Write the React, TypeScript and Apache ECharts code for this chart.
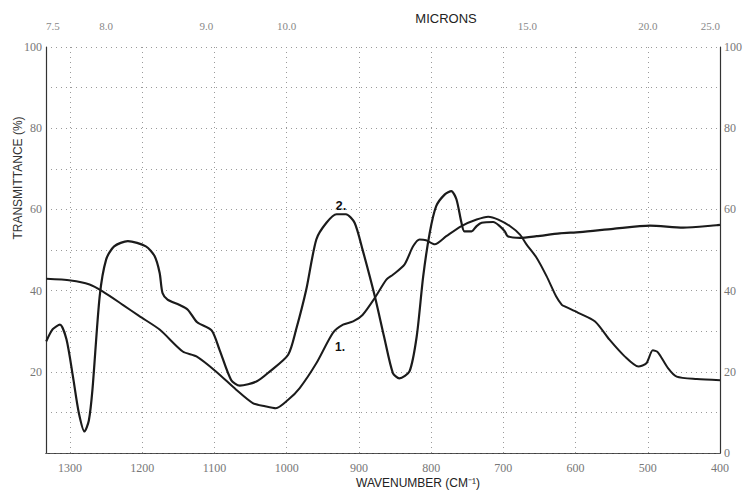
import React, { useEffect, useRef } from "react";
import * as echarts from "echarts";

// Wavenumber axis ticks (cm-1) and micron marks on the top axis
const wavenumberTicks = [1300, 1200, 1100, 1000, 900, 800, 700, 600, 500, 400];
const micronMarks = [7.5, 8.0, 9.0, 10.0, 15.0, 20.0, 25.0];

// Curve 1
const curve1Wavenumber = [1333, 1299, 1273, 1255, 1227, 1204, 1176, 1144, 1125, 1098, 1070, 1047, 1030, 1015, 998, 982, 959, 936, 922, 908, 895, 878, 862, 853, 837, 825, 816, 807, 795, 779, 758, 737, 721, 707, 691, 677, 668, 654, 640, 627, 619, 615, 597, 573, 553, 532, 513, 502, 493, 486, 472, 460, 432, 400];
const curve1Transmittance = [42.9, 42.5, 41.5, 39.8, 36.5, 33.7, 30.4, 25, 23.8, 20.1, 15.6, 12.3, 11.5, 11, 13.1, 16, 22.1, 29.6, 31.6, 32.4, 34, 38.2, 42.7, 43.9, 46.4, 50.9, 52.6, 52.4, 51.4, 53.4, 55.9, 57.5, 58.2, 57.5, 55.9, 53.8, 51.4, 48.1, 43.5, 38.6, 36.5, 36.1, 34.6, 32.4, 27.9, 23.8, 21.3, 22.1, 25.3, 24.8, 20.9, 18.8, 18.2, 17.9];

// Curve 2
const curve2Wavenumber = [1333, 1324, 1314, 1305, 1296, 1288, 1280, 1274, 1269, 1259, 1250, 1239, 1220, 1195, 1183, 1176, 1172, 1165, 1149, 1137, 1124, 1104, 1093, 1077, 1065, 1042, 1024, 998, 987, 973, 959, 945, 931, 918, 906, 895, 878, 865, 853, 844, 830, 820, 811, 802, 793, 781, 772, 765, 758, 754, 744, 737, 730, 714, 705, 698, 694, 677, 654, 622, 594, 548, 497, 451, 405, 400];
const curve2Transmittance = [27.5, 30.5, 31.6, 28, 18.8, 10, 5.3, 8, 15.6, 38.6, 47.7, 50.9, 52.2, 50.9, 48.5, 44.4, 39.4, 37.8, 36.5, 35.3, 32.2, 30.2, 25.4, 18, 16.6, 17.6, 20, 24.2, 30.4, 40.2, 52.6, 56.7, 58.8, 58.8, 56.7, 50.1, 38.6, 28.5, 19.7, 18.4, 20.1, 28.7, 43.5, 54.2, 60.8, 63.7, 64.5, 62.5, 56.7, 54.6, 54.6, 55.9, 56.7, 56.9, 55.9, 54.6, 53.4, 53, 53.4, 54.1, 54.4, 55.2, 56, 55.5, 56.1, 56.2];

const X_MIN = 400;
const X_MAX = 10000 / 7.5;

export default function App() {
  const ref = useRef<HTMLDivElement>(null);

  useEffect(() => {
    if (!ref.current) return;
    const chart = echarts.init(ref.current, null, { renderer: "svg" });
    const labelFont = "'Liberation Serif', 'DejaVu Serif', serif";
    const sansFont = "'Liberation Sans', Arial, sans-serif";
    const gridDots = { color: "#9a9a9a", type: [1, 4] as any, width: 1 };
    const lineColor = "#1b1b1b";

    const pairs = (w: number[], v: number[]) => w.map((x, i) => [x, v[i]]);

    chart.setOption({
      animation: false,
      backgroundColor: "#ffffff",
      grid: { left: 46, right: 31, top: 47, bottom: 41, containLabel: false },
      xAxis: [
        {
          type: "value",
          position: "bottom",
          min: X_MIN,
          max: X_MAX,
          inverse: true,
          interval: 100,
          axisLine: { show: true, lineStyle: { color: "#333", width: 1.2 } },
          axisTick: { show: false },
          axisLabel: {
            color: "#777",
            fontFamily: labelFont,
            fontSize: 12,
            margin: 9,
            showMaxLabel: false,
            formatter: (v: number) => (wavenumberTicks.includes(Math.round(v)) ? String(Math.round(v)) : ""),
          },
          splitLine: { show: true, lineStyle: gridDots },
        },
        {
          type: "value",
          position: "top",
          min: X_MIN,
          max: X_MAX,
          inverse: true,
          axisLine: { show: true, lineStyle: { color: "#555", width: 1, type: [4, 2] as any } },
          axisTick: { show: false },
          splitLine: { show: false },
          axisLabel: {
            customValues: micronMarks.map((m) => 10000 / m),
            color: "#888",
            fontFamily: labelFont,
            fontSize: 11,
            margin: 16,
            alignMinLabel: "left",
            alignMaxLabel: "right",
            formatter: (v: number) => (10000 / v).toFixed(1),
          },
        },
      ],
      yAxis: [
        {
          type: "value",
          position: "left",
          min: 0,
          max: 100,
          interval: 10,
          axisLine: { show: true, lineStyle: { color: "#333", width: 1.2 } },
          axisTick: { show: false },
          axisLabel: {
            color: "#777",
            fontFamily: labelFont,
            fontSize: 12,
            margin: 4,
            formatter: (v: number) => (v > 0 && v % 20 === 0 ? String(v) : ""),
          },
          splitLine: { show: true, lineStyle: gridDots },
        },
        {
          type: "value",
          position: "right",
          min: 0,
          max: 100,
          interval: 20,
          axisLine: { show: true, lineStyle: { color: "#333", width: 1.2 } },
          axisTick: { show: false },
          axisLabel: {
            color: "#777",
            fontFamily: labelFont,
            fontSize: 12,
            margin: 4,
          },
          splitLine: { show: false },
        },
      ],
      series: [
        {
          name: "1.",
          type: "line",
          xAxisIndex: 0,
          yAxisIndex: 0,
          data: pairs(curve1Wavenumber, curve1Transmittance),
          showSymbol: false,
          smooth: 0.25,
          lineStyle: { color: lineColor, width: 2 },
        },
        {
          name: "2.",
          type: "line",
          xAxisIndex: 0,
          yAxisIndex: 0,
          data: pairs(curve2Wavenumber, curve2Transmittance),
          showSymbol: false,
          smooth: 0.25,
          lineStyle: { color: lineColor, width: 2.2 },
        },
      ],
      graphic: [
        {
          type: "text",
          x: 446,
          y: 18,
          style: {
            text: "MICRONS",
            fill: "#222",
            font: `13px ${sansFont}`,
            textAlign: "center",
            textVerticalAlign: "middle",
          },
        },
        {
          type: "text",
          x: 18,
          y: 178,
          rotation: Math.PI / 2,
          style: {
            text: "TRANSMITTANCE (%)",
            fill: "#333",
            font: `12px ${sansFont}`,
            textAlign: "center",
            textVerticalAlign: "middle",
          },
        },
        {
          type: "text",
          x: 418,
          y: 483,
          style: {
            text: "WAVENUMBER (CM\u207B\u00B9)",
            fill: "#222",
            font: `12px ${sansFont}`,
            textAlign: "center",
            textVerticalAlign: "middle",
          },
        },
        {
          type: "text",
          x: 341,
          y: 205,
          style: {
            text: "2.",
            fill: "#111",
            font: `bold 13px ${sansFont}`,
            textAlign: "center",
            textVerticalAlign: "middle",
          },
        },
        {
          type: "text",
          x: 340,
          y: 347,
          style: {
            text: "1.",
            fill: "#111",
            font: `bold 12px ${sansFont}`,
            textAlign: "center",
            textVerticalAlign: "middle",
          },
        },
      ],
    });

    return () => chart.dispose();
  }, []);

  return (
    <div
      ref={ref}
      style={{ position: "fixed", left: 0, top: 0, width: 751, height: 494, background: "#fff" }}
    />
  );
}
